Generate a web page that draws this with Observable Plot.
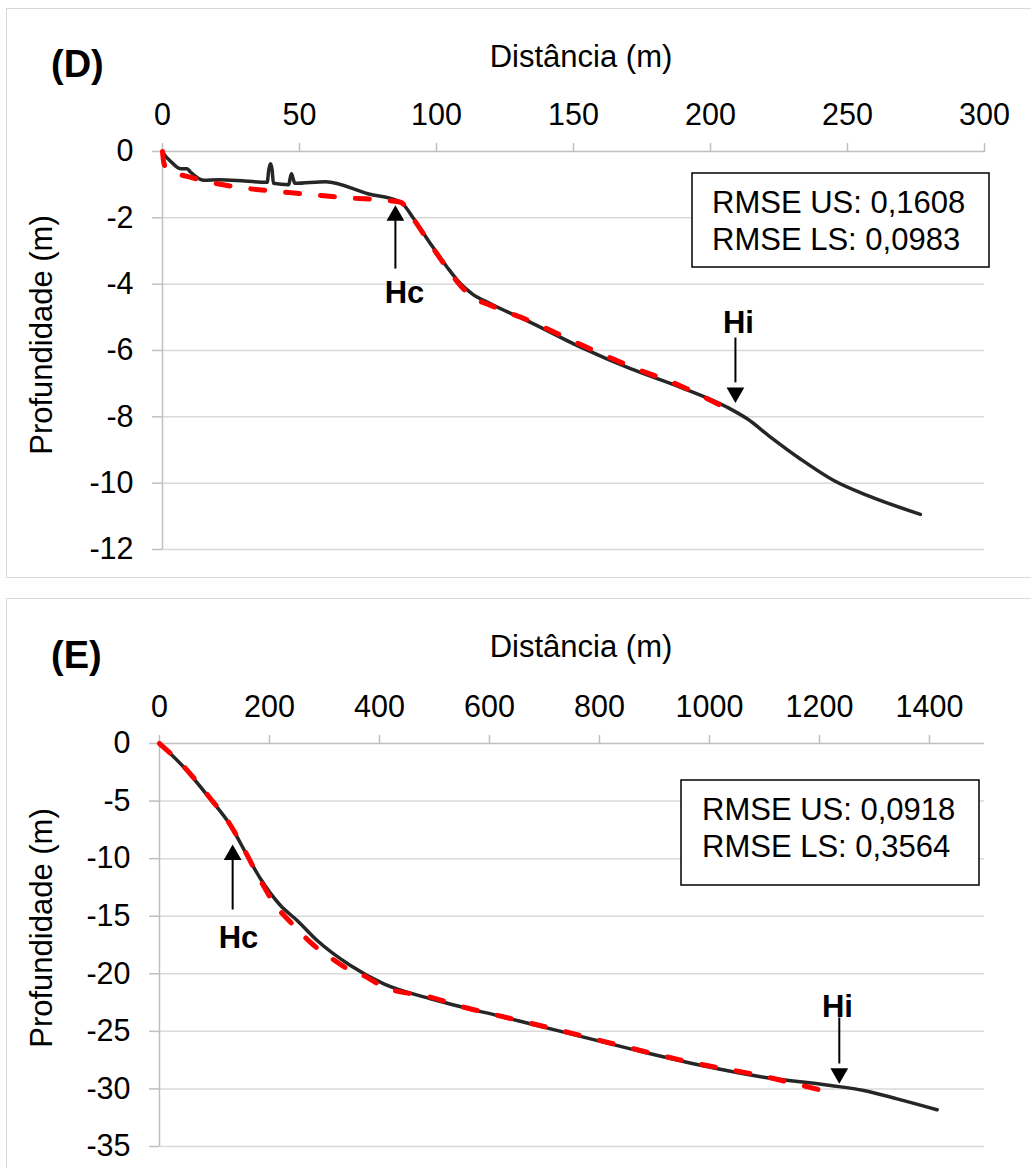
<!DOCTYPE html>
<html>
<head>
<meta charset="utf-8">
<script src="https://cdn.jsdelivr.net/npm/d3@7"></script>
<script src="https://cdn.jsdelivr.net/npm/@observablehq/plot@0.6"></script>
<style>
html,body{margin:0;padding:0;background:#fff;overflow:hidden;width:1031px;height:1168px;}
body{position:relative;font-family:"Liberation Sans",Arial,sans-serif;}
.panel{position:absolute;left:0;width:1031px;}
.border{position:absolute;border:1.5px solid #d9d9d9;box-sizing:border-box;}
svg.overlay{position:absolute;left:0;top:0;}
</style>
</head>
<body>
<div class="border" style="left:6px;top:8px;width:1100px;height:570px"></div>
<div class="border" style="left:6px;top:598px;width:1100px;height:700px"></div>
<div id="plotD" class="panel" style="top:0;height:590px"></div>
<div id="plotE" class="panel" style="top:590px;height:578px"></div>
<svg class="overlay" width="1031" height="1168" font-family="Liberation Sans, Arial, sans-serif">
  <text x="581" y="67" font-size="31" text-anchor="middle">Distância (m)</text>
  <text x="51" y="77" font-size="38" font-weight="bold">(D)</text>
  <text transform="translate(52,335) rotate(-90)" font-size="31" text-anchor="middle">Profundidade (m)</text>
  <rect x="692" y="173" width="297" height="94" fill="white" stroke="black" stroke-width="1.5"></rect>
  <text x="712" y="213" font-size="31">RMSE US: 0,1608</text>
  <text x="712" y="250" font-size="31">RMSE LS: 0,0983</text>

  <text x="581" y="657" font-size="31" text-anchor="middle">Distância (m)</text>
  <text x="51" y="668" font-size="38" font-weight="bold">(E)</text>
  <text transform="translate(52,928) rotate(-90)" font-size="31" text-anchor="middle">Profundidade (m)</text>
  <rect x="681" y="780" width="298" height="105" fill="white" stroke="black" stroke-width="1.5"></rect>
  <text x="702" y="820" font-size="31">RMSE US: 0,0918</text>
  <text x="702" y="857" font-size="31">RMSE LS: 0,3564</text>
</svg>
<script>
// ---------- Panel D data ----------
const D_xTicks = [0, 50, 100, 150, 200, 250, 300];
const D_yTicks = [0, -2, -4, -6, -8, -10, -12];

const D_obs_x = [0, 0.5, 3, 6.6, 9.0, 10.2, 15.1, 20.5, 30, 38.2, 38.8, 39.4, 40.0, 40.5, 46.1, 46.6, 47.1, 47.6, 48.3, 59.5, 75.3, 85.7, 87.2, 91.7, 97.8, 103.9, 108.8, 113.0, 119.7, 134.3, 152.6, 170.8, 189.1, 206.1, 213.4, 221.9, 232.8, 245.0, 257.2, 276.6];
const D_obs_y = [0, -0.07, -0.3, -0.52, -0.52, -0.62, -0.87, -0.85, -0.89, -0.93, -0.55, -0.37, -0.55, -0.96, -1.00, -0.8, -0.67, -0.8, -0.96, -0.91, -1.28, -1.48, -1.54, -2.03, -2.78, -3.49, -3.99, -4.29, -4.59, -5.15, -5.90, -6.55, -7.11, -7.71, -8.06, -8.61, -9.27, -9.92, -10.37, -10.94];

const D_mod_x = [0, 0.4, 1.2, 4, 8.5, 15, 27.8, 41.2, 54.6, 68, 82.6, 86.9, 91.7, 97.8, 103.9, 108.8, 113, 119.7, 134.3, 152.6, 170.8, 189.1, 206.1];
const D_mod_y = [0, -0.3, -0.48, -0.64, -0.74, -0.88, -1.08, -1.2, -1.3, -1.4, -1.48, -1.53, -2.05, -2.8, -3.52, -4.05, -4.38, -4.64, -5.12, -5.82, -6.48, -7.07, -7.76];

const D_ann_label = ["Hc", "Hi"];
const D_ann_x = [85.0, 209.1];
const D_ann_shaftFrom = [-3.53, -5.61];
const D_ann_shaftTo = [-2.08, -6.96];
const D_ann_head = [-1.93, -7.27];
const D_ann_dir = ["up", "down"];
const D_ann_labelX = [88.3, 210.2];
const D_ann_labelY = [-4.58, -5.46];

// ---------- Panel E data ----------
const E_xTicks = [0, 200, 400, 600, 800, 1000, 1200, 1400];
const E_yTicks = [0, -5, -10, -15, -20, -25, -30, -35];

const E_obs_x = [0, 44.2, 89.6, 129.1, 159.4, 183.6, 220, 250.3, 286.7, 347.2, 407.8, 492.7, 613.9, 735, 856.3, 977.5, 1098.6, 1219.9, 1280.4, 1341.1, 1413.9];
const E_obs_y = [0, -2.06, -4.66, -7.12, -9.73, -11.75, -14.07, -15.37, -17.11, -19.28, -20.87, -22.17, -23.62, -25.07, -26.52, -27.88, -28.98, -29.70, -30.14, -30.86, -31.81];

const E_mod_x = [0, 44.2, 89.6, 129.1, 159.4, 183.6, 210, 238, 256, 275, 311, 347, 371, 408, 492.7, 553, 613.9, 735, 856.3, 977.5, 1098.6, 1160, 1229];
const E_mod_y = [0, -2.0, -4.6, -7.1, -9.7, -11.9, -14.0, -15.5, -16.4, -17.3, -18.6, -19.7, -20.15, -21.15, -22.03, -22.9, -23.6, -25.0, -26.45, -27.8, -28.9, -29.6, -30.43];

const E_ann_label = ["Hc", "Hi"];
const E_ann_x = [133, 1236];
const E_ann_shaftFrom = [-14.42, -23.80];
const E_ann_shaftTo = [-10.07, -27.79];
const E_ann_head = [-9.67, -28.66];
const E_ann_dir = ["up", "down"];
const E_ann_labelX = [143.6, 1232.7];
const E_ann_labelY = [-17.72, -23.71];

// ---------- helpers ----------
const zipXY = (xs, ys) => xs.map((x, i) => ({x, y: ys[i]}));
const annTable = (lab, x, s0, s1, h, dir, lx, ly) =>
  lab.map((t, i) => ({label: t, x: x[i], s0: s0[i], s1: s1[i], h: h[i], dir: dir[i], lx: lx[i], ly: ly[i]}));

const FONT = "Liberation Sans, Arial, sans-serif";

function panel({xDomain, xTicks, yDomain, yTicks, obs, mod, ann, height, margins}) {
  return Plot.plot({
    width: 1031,
    height,
    ...margins,
    style: {background: "transparent", fontFamily: FONT, fontSize: "30px", color: "black"},
    x: {domain: xDomain},
    y: {domain: yDomain},
    marks: [
      Plot.gridY(yTicks.filter(v => v !== 0), {stroke: "#d9d9d9", strokeOpacity: 1, strokeWidth: 1.5}),
      Plot.ruleY([0], {stroke: "#bfbfbf", strokeWidth: 1.5}),
      Plot.ruleX([0], {stroke: "#bfbfbf", strokeWidth: 1.5}),
      Plot.axisX(xTicks, {anchor: "top", tickSize: 9, tickPadding: 18, stroke: "#bfbfbf", strokeWidth: 1.5, strokeOpacity: 1, fill: "black", fontSize: 30.5, label: null, tickFormat: d => String(d)}),
      Plot.axisY(yTicks, {anchor: "left", tickSize: 10, tickPadding: 19, stroke: "#bfbfbf", strokeWidth: 1.5, strokeOpacity: 1, fill: "black", fontSize: 30.5, label: null, tickFormat: d => String(d)}),
      Plot.line(obs, {x: "x", y: "y", stroke: "#262626", strokeWidth: 3.5, curve: "monotone-x"}),
      Plot.line(mod, {x: "x", y: "y", stroke: "#ff0000", strokeWidth: 5, strokeDasharray: "14,21", strokeLinecap: "round", curve: "monotone-x"}),
      Plot.link(ann, {x1: "x", x2: "x", y1: "s0", y2: "s1", stroke: "black", strokeWidth: 2}),
      Plot.dot(ann.filter(d => d.dir === "up"), {x: "x", y: "h", symbol: "triangle", r: 6.6, fill: "black", stroke: null}),
      Plot.dot(ann.filter(d => d.dir === "down"), {x: "x", y: "h", symbol: "triangle", r: 6.6, fill: "black", stroke: null, rotate: 180}),
      Plot.text(ann, {x: "lx", y: "ly", text: "label", fontWeight: "bold", fontSize: 31, lineAnchor: "bottom", fill: "black"})
    ]
  });
}

document.getElementById("plotD").appendChild(panel({
  xDomain: [0, 300], xTicks: D_xTicks, yDomain: [-12, 0], yTicks: D_yTicks,
  obs: zipXY(D_obs_x, D_obs_y), mod: zipXY(D_mod_x, D_mod_y),
  ann: annTable(D_ann_label, D_ann_x, D_ann_shaftFrom, D_ann_shaftTo, D_ann_head, D_ann_dir, D_ann_labelX, D_ann_labelY),
  height: 590, margins: {marginTop: 151, marginBottom: 41, marginLeft: 162, marginRight: 47}
}));

document.getElementById("plotE").appendChild(panel({
  xDomain: [0, 1500], xTicks: E_xTicks, yDomain: [-35, 0], yTicks: E_yTicks,
  obs: zipXY(E_obs_x, E_obs_y), mod: zipXY(E_mod_x, E_mod_y),
  ann: annTable(E_ann_label, E_ann_x, E_ann_shaftFrom, E_ann_shaftTo, E_ann_head, E_ann_dir, E_ann_labelX, E_ann_labelY),
  height: 578, margins: {marginTop: 153, marginBottom: 22, marginLeft: 159, marginRight: 47}
}));
</script>
</body>
</html>
